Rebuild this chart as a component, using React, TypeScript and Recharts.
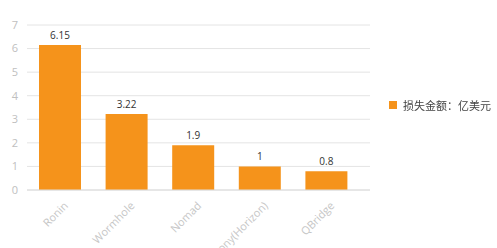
import { BarChart, Bar, XAxis, YAxis, CartesianGrid, Legend, LabelList } from "recharts";

const bridges = ["Ronin", "Wormhole", "Nomad", "Harmony(Horizon)", "QBridge"];
const lossValues = [6.15, 3.22, 1.9, 1, 0.8];
const yTicks = [0, 1, 2, 3, 4, 5, 6, 7];
const seriesName = "损失金额：亿美元";

const data = bridges.map((name, i) => ({ name, loss: lossValues[i] }));

const ORANGE = "#F5931B";
const FONT = '"Open Sans", "Noto Sans CJK SC", sans-serif';

// rotated category label, anchored at its right end under the tick
function SlantTick(props: any) {
  const { x, y, payload } = props;
  return (
    <text
      x={x}
      y={y}
      dy={12}
      textAnchor="end"
      fontSize={11}
      fill="#c6c6c6"
      fontFamily={FONT}
      transform={`rotate(-45, ${x}, ${y})`}
    >
      {payload.value}
    </text>
  );
}

function LegendBox() {
  return (
    <div style={{ display: "flex", alignItems: "center", fontFamily: FONT, fontSize: 11, color: "#444" }}>
      <span style={{ width: 8, height: 8, background: ORANGE, marginRight: 6, display: "inline-block" }} />
      {seriesName}
    </div>
  );
}

export default function App() {
  return (
    <div style={{ position: "fixed", left: 0, top: 0, background: "#fff" }}>
      <BarChart
        width={497}
        height={248}
        data={data}
        margin={{ top: 25, right: 127, left: 0, bottom: 0 }}
        style={{ fontFamily: FONT }}
      >
        <CartesianGrid vertical={false} stroke="#e4e4e4" />
        <XAxis
          dataKey="name"
          interval={0}
          height={58}
          tickLine={false}
          axisLine={{ stroke: "#dcdcdc" }}
          tick={<SlantTick />}
          padding={{ left: 0, right: 10 }}
        />
        <YAxis
          domain={[0, 7]}
          ticks={yTicks}
          width={27}
          tickLine={false}
          axisLine={false}
          tickSize={0}
          tickMargin={9}
          tick={{ fontSize: 11, fill: "#c0c0c0" }}
        />
        {/* centered + middle keeps the legend out of the plot offset */}
        <Legend
          layout="horizontal"
          verticalAlign="middle"
          align="center"
          content={<LegendBox />}
          wrapperStyle={{ left: 389, top: 97, width: 110 }}
        />
        <Bar dataKey="loss" name={seriesName} fill={ORANGE} barSize={42} isAnimationActive={false}>
          <LabelList dataKey="loss" position="top" offset={6} fontSize={10} fill="#333" />
        </Bar>
      </BarChart>
    </div>
  );
}
